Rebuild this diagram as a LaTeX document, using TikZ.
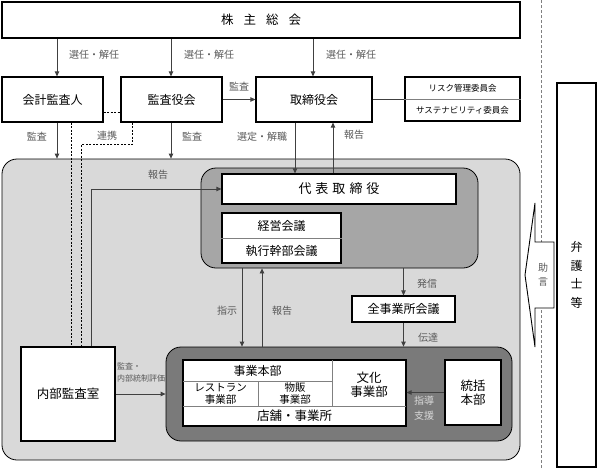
\documentclass[tikz,border=0pt]{standalone}
\usepackage{fontspec}
\setmainfont{Noto Sans CJK JP}
\usetikzlibrary{arrows.meta}
\definecolor{lg}{HTML}{D9D9D9}
\definecolor{mg}{HTML}{A6A6A6}
\definecolor{dg}{HTML}{7A7A7A}
\definecolor{lblc}{HTML}{595959}
\definecolor{connc}{HTML}{404040}
\begin{document}
\begin{tikzpicture}[x=1pt,y=-1pt,
  box/.style={draw=black, line width=1.2pt, fill=white, inner sep=0pt, align=center, font=\fontsize{12}{15}\selectfont},
  txt/.style={inner sep=0pt, align=center, font=\fontsize{12}{15}\selectfont},
  region/.style={draw=black, line width=0.8pt, rounded corners=15pt, inner sep=0pt},
  conn/.style={draw=connc, line width=0.8pt},
  arr/.style={conn, -{Triangle[length=5pt,width=4.5pt]}},
  dsh/.style={draw=black, line width=0.9pt, dash pattern=on 2pt off 1.5pt},
  inner/.style={draw=gray, line width=0.6pt},
  lbl/.style={text=lblc, inner sep=0pt, align=center, font=\fontsize{10}{12}\selectfont}]
\useasboundingbox (0,0) rectangle (597,469);

% column coordinates
\coordinate (x57) at (57,0);
\coordinate (x71) at (71,0);
\coordinate (x81) at (81,0);
\coordinate (x91) at (91,0);
\coordinate (x132) at (132,0);
\coordinate (x171) at (171,0);
\coordinate (x242) at (242,0);
\coordinate (x262) at (262,0);
\coordinate (x295) at (295,0);
\coordinate (x313) at (313,0);
\coordinate (x333) at (333,0);
\coordinate (y112) at (0,112);
\coordinate (dtop) at (541,0);
\coordinate (dbot) at (541,469);

% right dashed separator
\draw[draw=gray, line width=0.8pt, dash pattern=on 3pt off 2pt] (dtop) -- (dbot);

% top boxes
\node[box, minimum width=518pt, minimum height=36pt, font=\fontsize{12.5}{15}\selectfont] (sh) at (261,20) {株\hspace{10pt}主\hspace{10pt}総\hspace{10pt}会};
\node[box, minimum width=101pt, minimum height=45pt] (kaikei) at (52.5,99.5) {会計監査人};
\node[box, minimum width=101pt, minimum height=45pt] (kansa) at (171.5,99.5) {監査役会};
\node[box, minimum width=116pt, minimum height=45pt] (tori) at (314,99.5) {取締役会};
\node[box, minimum width=115pt, minimum height=44pt] (risk) at (462.5,99) {};
\draw[inner] (risk.west) -- (risk.east);
\node[txt, font=\fontsize{8.5}{11}\selectfont] (risk1) at (462.5,88) {リスク管理委員会};
\node[txt, font=\fontsize{8.5}{11}\selectfont] (risk2) at (462.5,110) {サステナビリティ委員会};

% lawyer box
\node[box, minimum width=39pt, minimum height=384pt, font=\fontsize{12}{18.5}\selectfont] (bengo) at (576.5,275) {弁\\護\\士\\等};

% regions
\node[region, fill=lg, minimum width=518pt, minimum height=301pt] (big) at (261,309.5) {};
\node[region, fill=mg, minimum width=277pt, minimum height=100pt] (mgmt) at (339.5,218) {};
\node[region, fill=dg, minimum width=346pt, minimum height=94pt] (biz) at (339,394) {};

% management boxes
\node[box, minimum width=234pt, minimum height=30pt, font=\fontsize{13}{15}\selectfont] (daihyo) at (339,189) {代\hspace{4pt}表\hspace{4pt}取\hspace{4pt}締\hspace{4pt}役};
\node[box, minimum width=119pt, minimum height=50pt] (kaigi) at (281.5,238) {};
\draw[inner] (kaigi.west) -- (kaigi.east);
\node[txt] (keiei) at (281.5,226) {経営会議};
\node[txt] (shikko) at (281.5,251) {執行幹部会議};

\node[box, minimum width=103pt, minimum height=26pt] (zenji) at (403.5,309) {全事業所会議};
\node[box, minimum width=94pt, minimum height=94pt, font=\fontsize{12.5}{15}\selectfont] (naibu) at (68,394) {内部監査室};

% business composite box
\node[box, minimum width=223pt, minimum height=66pt] (jigyo) at (294.5,393) {};
\draw[inner] (183,381) -- (332,381);
\draw[inner] (332,360) -- (332,406);
\draw[inner] (183,406) -- (406,406);
\draw[inner] (258,381) -- (258,406);
\node[txt] (jh) at (257.5,370.5) {事業本部};
\node[txt, font=\fontsize{10.5}{12}\selectfont] (rest) at (220.5,393.5) {レストラン\\事業部};
\node[txt, font=\fontsize{10.5}{12}\selectfont] (buppan) at (295,393.5) {物販\\事業部};
\node[txt, font=\fontsize{12.5}{14}\selectfont] (bunka) at (369,385) {文化\\事業部};
\node[txt, font=\fontsize{12.5}{14}\selectfont] (tenpo) at (294.5,416) {店舗・事業所};
\node[box, minimum width=56pt, minimum height=65pt, font=\fontsize{12.5}{14}\selectfont] (toukatsu) at (473,392.5) {統括\\本部};

% connectors from shareholders meeting
\draw[arr] (sh.south -| x57) -- (kaikei.north -| x57);
\draw[arr] (sh.south -| x171) -- (kansa.north -| x171);
\draw[arr] (sh.south -| x313) -- (tori.north -| x313);
\node[lbl] (l1) at (94,55) {選任・解任};
\node[lbl] (l2) at (209,55) {選任・解任};
\node[lbl] (l3) at (351,55) {選任・解任};

\draw[arr] (kansa.east) -- (tori.west);
\node[lbl] (l4) at (239,87) {監査};
\draw[conn] (tori.east) -- (tori.east -| risk.west);

\draw[dsh] (kaikei.east |- y112) -- (kansa.west |- y112);

\draw[arr] (kaikei.south -| x57) -- (big.north -| x57);
\node[lbl] (l5) at (37,137) {監査};
\draw[arr] (kansa.south -| x171) -- (big.north -| x171);
\node[lbl] (l6) at (192,137) {監査};

\draw[dsh] (kaikei.south -| x71) -- (naibu.north -| x71);
\draw[dsh] (kansa.south -| x132) -- ++(0,22) -| (naibu.north -| x81);
\node[lbl] (l7) at (107,136) {連携};

\draw[arr] (tori.south -| x295) -- (daihyo.north -| x295);
\node[lbl] (l8) at (262,137) {選定・解職};
\draw[arr] (daihyo.north -| x333) -- (tori.south -| x333);
\node[lbl] (l9) at (354,135) {報告};

\draw[arr] (naibu.north -| x91) |- (daihyo.west);
\node[lbl] (l10) at (158,175) {報告};

\draw[arr] (mgmt.south -| x242) -- (biz.north -| x242);
\node[lbl] (l11) at (227,311) {指示};
\draw[arr] (biz.north -| x262) -- (mgmt.south -| x262);
\node[lbl] (l12) at (282,311) {報告};

\draw[arr] (mgmt.south -| zenji.north) -- (zenji.north);
\node[lbl] (l13) at (427,284) {発信};
\draw[arr] (zenji.south) -- (biz.north -| zenji.south);
\node[lbl] (l14) at (428,338) {伝達};

\draw[arr] (toukatsu.west) -- (toukatsu.west -| jigyo.east);
\node[lbl, text=lg, font=\fontsize{10}{14.5}\selectfont] (l15) at (424,408) {指導\\支援};

\draw[arr] (naibu.east) -- (naibu.east -| biz.west);
\node[lbl, anchor=west, align=left, font=\fontsize{8}{12}\selectfont] (l16) at (117,372) {監査・\\内部統制評価};

% advice arrow
\draw[draw=black, line width=0.9pt, fill=white] (535,203) -- (535,242) -- (554,242) -- (554,308) -- (535,308) -- (535,347) -- (525,275) -- cycle;
\node[lbl, font=\fontsize{10}{14}\selectfont] (l17) at (543,275) {助\\言};
\end{tikzpicture}
\end{document}
